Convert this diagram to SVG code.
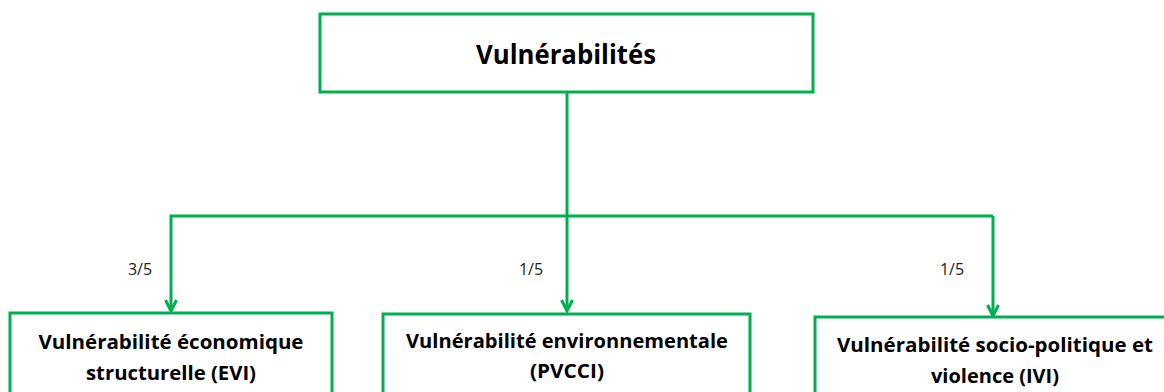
<svg xmlns="http://www.w3.org/2000/svg" width="1164" height="392" viewBox="0 0 1164 392">
<style>
.box{fill:#fff;stroke:#00B050;stroke-width:3}
.con{fill:none;stroke:#00B050;stroke-width:3}
.t{font-family:"Open Sans","Liberation Sans",sans-serif;font-weight:700;fill:#000;text-anchor:middle}
.lbl{font-family:"Open Sans","Liberation Sans",sans-serif;font-size:16px;fill:#222;text-anchor:middle}
</style>
<defs>
<marker id="arr" viewBox="0 0 14 14" refX="12.5" refY="7" markerWidth="14" markerHeight="14" markerUnits="userSpaceOnUse" orient="auto">
<path d="M1.5,1.5 L12.5,7 L1.5,12.5" fill="none" stroke="#00B050" stroke-width="3"/>
</marker>
</defs>
<rect width="1164" height="392" fill="#fff"/>
<g id="connectors">
<path class="con" d="M567,92 V311" marker-end="url(#arr)"/>
<path class="con" d="M993,216 H171 V311" marker-end="url(#arr)"/>
<path class="con" d="M993,216 V316" marker-end="url(#arr)"/>
<text class="lbl" x="140" y="275">3/5</text>
<text class="lbl" x="531" y="275">1/5</text>
<text class="lbl" x="952" y="275">1/5</text>
</g>
<g id="root">
<rect class="box" x="320" y="14" width="493" height="78"/>
<text class="t" x="566" y="64" font-size="26" textLength="180" lengthAdjust="spacingAndGlyphs">Vulnérabilités</text>
</g>
<g id="evi">
<rect class="box" x="10" y="313" width="322" height="90"/>
<text class="t" x="171" y="349" font-size="20" textLength="265" lengthAdjust="spacingAndGlyphs">Vulnérabilité économique</text>
<text class="t" x="171" y="380" font-size="20" textLength="170" lengthAdjust="spacingAndGlyphs">structurelle (EVI)</text>
</g>
<g id="pvcci">
<rect class="box" x="383" y="314" width="367" height="90"/>
<text class="t" x="567" y="348" font-size="20" textLength="322" lengthAdjust="spacingAndGlyphs">Vulnérabilité environnementale</text>
<text class="t" x="567" y="378" font-size="20" textLength="74" lengthAdjust="spacingAndGlyphs">(PVCCI)</text>
</g>
<g id="ivi">
<rect class="box" x="815" y="317" width="370" height="90"/>
<text class="t" x="995" y="352" font-size="20" textLength="316" lengthAdjust="spacingAndGlyphs">Vulnérabilité socio-politique et</text>
<text class="t" x="995" y="383" font-size="20" textLength="128" lengthAdjust="spacingAndGlyphs">violence (IVI)</text>
</g>
</svg>
